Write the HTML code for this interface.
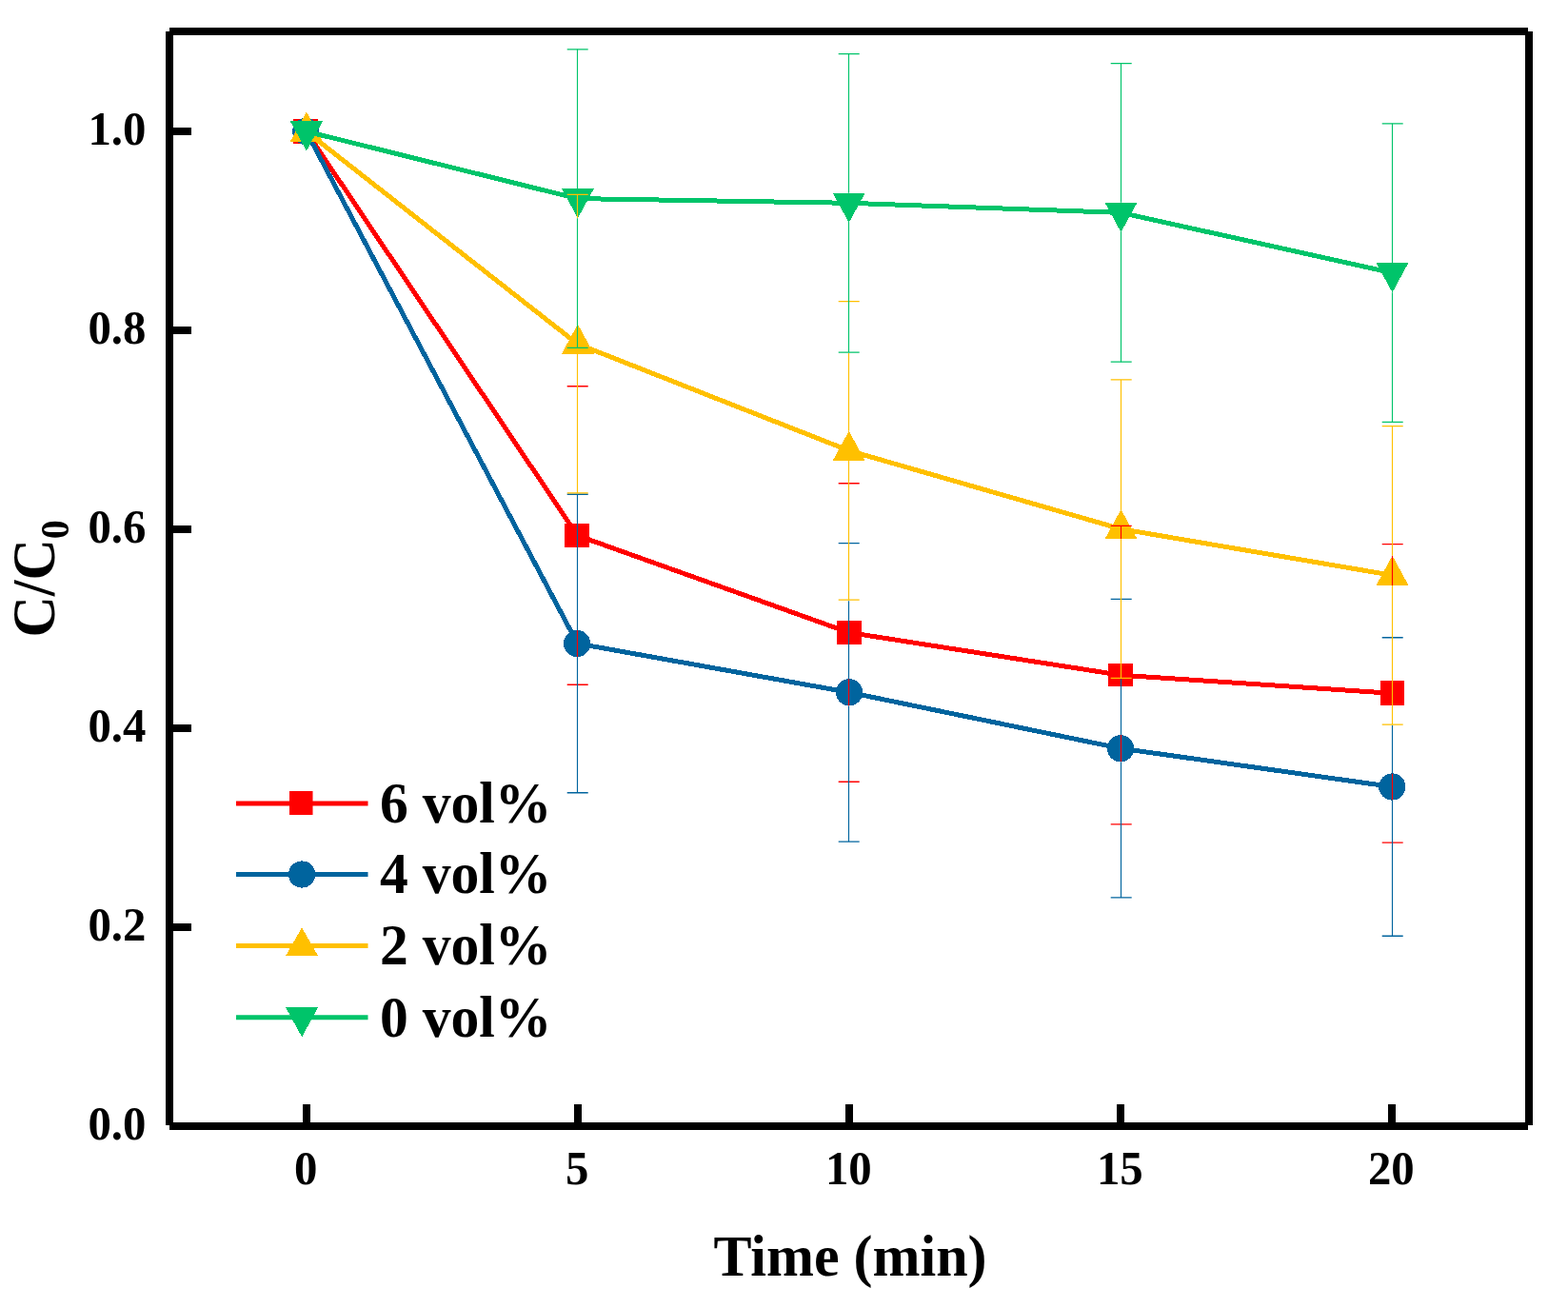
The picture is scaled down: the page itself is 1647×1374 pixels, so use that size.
<!DOCTYPE html>
<html lang="en">
<head>
<meta charset="utf-8">
<title>C/C0 versus Time (min)</title>
<style>
html,body{margin:0;padding:0;background:#fff;}
body{width:1647px;height:1374px;overflow:hidden;}
svg{display:block;}
text{font-family:"Liberation Serif",serif;font-weight:bold;fill:#000;}
.tick{font-size:48.8px;}
.title{font-size:60px;}
.leg{font-size:59.6px;}
</style>
</head>
<body>
<svg width="1647" height="1374" viewBox="0 0 1647 1374" role="img" aria-label="C/C0 versus Time (min) for 6, 4, 2 and 0 vol%">
<rect x="0" y="0" width="1647" height="1374" fill="#ffffff"/>
<g id="series" shape-rendering="crispEdges">
<polyline points="321.6,138 606.5,562.5 891.8,664.5 1177.3,709.2 1462.4,728.3" fill="none" stroke="#ff0000" stroke-width="5" stroke-linejoin="round"/>
<rect x="308" y="125" width="26" height="26" fill="#ff0000"/>
<rect x="593" y="550" width="26" height="25" fill="#ff0000"/>
<rect x="879" y="652" width="26" height="25" fill="#ff0000"/>
<rect x="1164" y="697" width="26" height="24" fill="#ff0000"/>
<rect x="1450" y="715" width="25" height="26" fill="#ff0000"/>
<polyline points="321.6,138 606.5,676 891.8,727.3 1177.3,786.2 1462.4,826.5" fill="none" stroke="#00649e" stroke-width="5" stroke-linejoin="round"/>
<circle cx="321.2" cy="138" r="14.1" fill="#00649e"/>
<circle cx="606.1" cy="676" r="14.1" fill="#00649e"/>
<circle cx="892" cy="727.3" r="14.1" fill="#00649e"/>
<circle cx="1177" cy="786.2" r="14.1" fill="#00649e"/>
<circle cx="1462.3" cy="826.5" r="14.1" fill="#00649e"/>
<polyline points="321.6,138 606.5,361.2 891.8,473.4 1177.3,555.65 1462.4,604.3" fill="none" stroke="#ffc000" stroke-width="5" stroke-linejoin="round"/>
<polygon points="321.9,117.4 338.9,148.6 304.9,148.6" fill="#ffc000"/>
<polygon points="606.9,340.6 623.9,371.8 589.9,371.8" fill="#ffc000"/>
<polygon points="891.7,452.8 908.7,484 874.7,484" fill="#ffc000"/>
<polygon points="1177.5,535.05 1194.5,566.25 1160.5,566.25" fill="#ffc000"/>
<polygon points="1462.5,583.7 1479.5,614.9 1445.5,614.9" fill="#ffc000"/>
<polyline points="321.6,138 606.5,208.6 891.8,213.3 1177.3,223.4 1462.4,286.6" fill="none" stroke="#00c46a" stroke-width="5" stroke-linejoin="round"/>
<polygon points="304.9,127.4 338.9,127.4 321.9,158.6" fill="#00c46a"/>
<polygon points="589.9,198 623.9,198 606.9,229.2" fill="#00c46a"/>
<polygon points="874.7,202.7 908.7,202.7 891.7,233.9" fill="#00c46a"/>
<polygon points="1160.5,212.8 1194.5,212.8 1177.5,244" fill="#00c46a"/>
<polygon points="1445.5,276 1479.5,276 1462.5,307.2" fill="#00c46a"/>
</g>
<g id="errorbars" fill="none" stroke-width="1.15">
<path stroke="#ff0000" d="M606.5,661.9V690.1M891.5,713.2V741.4M1177.5,552.45V566.25M1177.5,772.1V800.3M1462.5,583.7V614.9M1462.5,812.4V840.6"/>
<path stroke="#ff0000" stroke-width="1.3" d="M595.7,405.75H617.7M595.7,719.25H617.7M880.7,507.75H902.7M880.7,821.25H902.7M1166.7,552.45H1188.7M1166.7,865.95H1188.7M1451.7,571.55H1473.7M1451.7,885.05H1473.7"/>
<path stroke="#00649e" d="M606.5,519.25V661.9M606.5,690.1V832.75M891.5,631.15V713.2M891.5,741.4V884.05M1177.5,713.4V772.1M1177.5,800.3V942.95M1462.5,762.05V812.4M1462.5,840.6V983.25"/>
<path stroke="#00649e" stroke-width="1.3" d="M595.7,519.25H617.7M595.7,832.75H617.7M880.7,570.55H902.7M880.7,884.05H902.7M1166.7,629.45H1188.7M1166.7,942.95H1188.7M1451.7,669.75H1473.7M1451.7,983.25H1473.7"/>
<path stroke="#ffc000" d="M606.5,204.45V229.2M606.5,371.8V517.95M891.5,371.05V452.8M891.5,484V630.15M1177.5,398.9V535.05M1177.5,566.25V712.4M1462.5,447.55V583.7M1462.5,614.9V761.05"/>
<path stroke="#ffc000" stroke-width="1.3" d="M595.7,204.45H617.7M595.7,517.95H617.7M880.7,316.65H902.7M880.7,630.15H902.7M1166.7,398.9H1188.7M1166.7,712.4H1188.7M1451.7,447.55H1473.7M1451.7,761.05H1473.7"/>
<path stroke="#00c46a" d="M606.5,51.85V198M606.5,229.2V365.35M891.5,56.55V202.7M891.5,233.9V370.05M1177.5,66.65V212.8M1177.5,244V380.15M1462.5,129.85V276M1462.5,307.2V443.35"/>
<path stroke="#00c46a" stroke-width="1.3" d="M595.7,51.85H617.7M595.7,365.35H617.7M880.7,56.55H902.7M880.7,370.05H902.7M1166.7,66.65H1188.7M1166.7,380.15H1188.7M1451.7,129.85H1473.7M1451.7,443.35H1473.7"/>
</g>
<g id="axes" stroke="#000" stroke-width="8" fill="none">
<path d="M178,33H1605"/>
<path d="M178,1183H1605"/>
<path d="M178,33V1182"/>
<path d="M1606,33V1182"/>
<path stroke-width="8" d="M178,1183H201M178,974H201M178,765H201M178,556H201M178,347H201M178,138H201M322,1183V1160M607,1183V1160M892,1183V1160M1177,1183V1160M1462,1183V1160"/>
</g>
<g id="ylabels" class="tick" text-anchor="end">
<text transform="translate(153.4 151.7) scale(1 1.03)">1.0</text>
<text transform="translate(153.4 360.7) scale(1 1.03)">0.8</text>
<text transform="translate(153.4 569.7) scale(1 1.03)">0.6</text>
<text transform="translate(153.4 778.7) scale(1 1.03)">0.4</text>
<text transform="translate(153.4 987.7) scale(1 1.03)">0.2</text>
<text transform="translate(153.4 1196.7) scale(1 1.03)">0.0</text>
</g>
<g id="xlabels" class="tick" text-anchor="middle">
<text transform="translate(321.3 1244.3) scale(1 1.03)">0</text>
<text transform="translate(606.3 1244.3) scale(1 1.03)">5</text>
<text transform="translate(891.3 1244.3) scale(1 1.03)">10</text>
<text transform="translate(1176.3 1244.3) scale(1 1.03)">15</text>
<text transform="translate(1461.3 1244.3) scale(1 1.03)">20</text>
</g>
<text class="title" text-anchor="middle" transform="translate(893 1340.2) scale(1 1.02)">Time (min)</text>
<text class="title" text-anchor="middle" transform="translate(56.7 607.8) rotate(-90) scale(1 1.05)">C/C<tspan font-size="40" dy="15">0</tspan></text>
<g id="legend">
<path d="M248,844H386.5" stroke="#ff0000" stroke-width="5" fill="none"/>
<rect x="304" y="831" width="24.5" height="25" fill="#ff0000"/>
<text class="leg" transform="translate(399 863.7) scale(1 1.03)">6 vol%</text>
<path d="M248,918.5H386.5" stroke="#00649e" stroke-width="5" fill="none"/>
<circle cx="317.1" cy="918.5" r="14.1" fill="#00649e" shape-rendering="crispEdges"/>
<text class="leg" transform="translate(399 938.2) scale(1 1.03)">4 vol%</text>
<path d="M248,993.5H386.5" stroke="#ffc000" stroke-width="5" fill="none"/>
<polygon points="317.1,974.3 334.1,1004.1 300.1,1004.1" fill="#ffc000" shape-rendering="crispEdges"/>
<text class="leg" transform="translate(399 1013.2) scale(1 1.03)">2 vol%</text>
<path d="M248,1068.8H386.5" stroke="#00c46a" stroke-width="5" fill="none"/>
<polygon points="300.1,1058.2 334.1,1058.2 317.1,1089.4" fill="#00c46a" shape-rendering="crispEdges"/>
<text class="leg" transform="translate(399 1088.5) scale(1 1.03)">0 vol%</text>
</g>
</svg>
</body>
</html>
